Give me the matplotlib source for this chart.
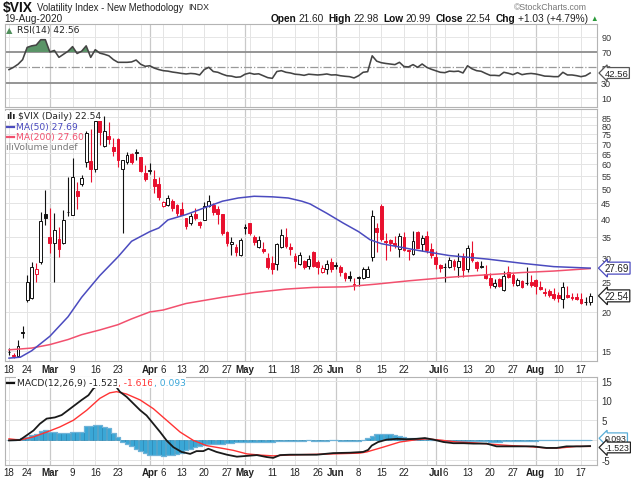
import numpy as np
import matplotlib.pyplot as plt
from matplotlib import font_manager
from matplotlib.lines import Line2D
from matplotlib.ticker import NullLocator
from matplotlib.transforms import blended_transform_factory

W, H = 631, 481

# ---- daily candles, 18-Feb-2020 .. 19-Aug-2020 (index 0..128) ----
prev_close = 13.68
opens = [14.85, 14.55, 14.40, 17.30, 21.80, 22.20, 26.60, 28.90, 41.30, 34.80,
         33.30, 34.30, 33.30, 41.90, 41.10, 49.00, 51.80, 60.90, 61.20, 57.83,
         85.00, 68.60, 74.00, 68.00, 72.40, 57.80, 60.90, 64.60, 65.00, 63.20,
         56.20, 57.00, 53.50, 51.80, 43.90, 44.30, 45.60, 44.40, 43.00, 40.10,
         38.80, 41.30, 39.00, 39.60, 44.00, 44.40, 43.00, 41.30, 36.10, 33.20,
         32.50, 30.50, 37.60, 38.70, 34.80, 32.30, 31.90, 29.90, 28.80, 28.50,
         32.50, 34.90, 32.30, 30.30, 28.50, 29.20, 28.20, 31.10, 29.00, 27.00,
         27.50, 29.00, 28.40, 28.00, 26.70, 26.10, 24.60, 25.90, 25.80, 26.00,
         30.00, 37.40, 44.00, 33.90, 34.00, 33.30, 31.80, 35.00, 31.60, 30.70,
         36.30, 33.00, 35.20, 31.80, 30.00, 28.30, 27.90, 27.90, 29.30, 27.90,
         30.30, 27.50, 31.00, 29.00, 28.10, 26.50, 25.80, 24.20, 25.50, 23.60,
         27.00, 26.30, 24.50, 25.20, 24.80, 24.90, 25.30, 24.00, 23.20, 23.30,
         22.90, 22.70, 22.00, 22.70, 22.40, 22.40, 22.00, 21.60, 21.60]
highs = [15.35, 14.75, 16.30, 18.00, 26.30, 29.00, 28.80, 42.00, 49.48, 43.40,
         41.60, 37.60, 42.70, 54.39, 62.70, 52.30, 55.07, 76.83, 77.57, 83.56,
         86.00, 85.47, 81.89, 72.91, 72.90, 62.00, 65.50, 65.00, 67.00, 63.37,
         59.31, 60.59, 57.24, 54.40, 45.50, 47.50, 46.36, 44.50, 45.21, 40.17,
         41.78, 43.35, 39.43, 45.08, 47.54, 45.00, 43.75, 41.32, 36.50, 34.88,
         33.07, 34.68, 38.31, 38.80, 35.44, 35.25, 33.62, 30.97, 30.38, 33.49,
         37.07, 37.34, 33.28, 30.90, 31.24, 29.40, 30.43, 31.50, 29.50, 28.41,
         29.48, 29.81, 29.00, 28.30, 26.90, 27.18, 25.80, 26.20, 28.02, 28.04,
         42.60, 38.83, 44.44, 36.00, 34.50, 35.22, 35.96, 36.13, 31.61, 36.41,
         36.50, 35.49, 36.47, 33.31, 31.36, 28.49, 28.81, 30.09, 29.69, 30.89,
         30.87, 32.97, 33.99, 29.26, 29.12, 28.41, 26.70, 25.58, 25.69, 27.17,
         28.03, 26.66, 25.73, 25.36, 28.00, 26.33, 25.57, 25.25, 23.87, 23.68,
         23.97, 23.27, 24.90, 24.20, 23.02, 23.04, 22.99, 22.39, 22.98]
lows = [14.55, 14.20, 14.30, 16.50, 21.60, 22.00, 25.00, 28.60, 38.20, 31.00,
        25.00, 30.00, 33.00, 40.80, 41.00, 42.80, 51.00, 58.76, 52.30, 56.50,
        69.26, 68.00, 69.53, 63.70, 58.65, 36.00, 60.00, 59.93, 61.65, 56.38,
        52.83, 55.68, 48.21, 46.03, 43.50, 43.80, 42.41, 40.78, 41.02, 37.00,
        38.26, 39.49, 37.43, 39.50, 43.53, 41.01, 38.44, 35.39, 32.74, 30.54,
        30.41, 30.40, 35.56, 35.32, 32.84, 32.20, 31.03, 27.46, 26.50, 27.21,
        32.07, 32.04, 30.51, 27.81, 28.30, 27.55, 27.50, 27.90, 26.43, 26.64,
        26.47, 26.95, 27.50, 26.10, 25.14, 25.13, 23.60, 24.32, 25.60, 25.92,
        29.30, 31.25, 33.85, 29.41, 31.43, 32.22, 30.00, 31.37, 29.50, 30.50,
        32.18, 31.34, 31.00, 29.83, 27.50, 26.88, 24.90, 27.80, 27.29, 26.00,
        26.00, 26.82, 28.98, 27.20, 27.68, 25.46, 23.90, 23.85, 24.05, 23.43,
        25.68, 24.30, 24.30, 23.93, 24.51, 24.06, 22.80, 23.56, 22.54, 22.31,
        21.82, 21.57, 20.60, 22.11, 21.91, 21.88, 21.20, 20.99, 20.99]
closes = [14.83, 14.38, 15.56, 17.08, 25.03, 27.85, 27.56, 39.16, 40.11, 33.42,
          36.82, 31.99, 39.62, 41.94, 54.46, 47.30, 53.90, 75.47, 57.83, 82.69,
          75.91, 76.45, 72.00, 66.04, 61.59, 61.67, 63.95, 61.00, 65.54, 57.08,
          53.54, 57.06, 50.91, 46.80, 45.24, 46.70, 43.35, 41.67, 41.17, 37.76,
          40.84, 40.11, 38.15, 43.83, 45.41, 41.98, 41.38, 35.93, 33.29, 33.57,
          31.23, 34.15, 37.19, 35.97, 33.61, 34.12, 31.44, 27.98, 27.57, 33.04,
          35.28, 32.61, 31.89, 29.30, 30.53, 27.99, 29.53, 28.16, 28.01, 27.62,
          28.59, 27.51, 28.23, 26.84, 25.66, 25.81, 24.52, 25.81, 27.57, 27.57,
          40.79, 36.09, 34.40, 33.67, 33.47, 32.94, 35.12, 31.77, 31.37, 33.84,
          32.22, 34.73, 31.78, 30.43, 28.62, 27.68, 27.94, 29.43, 28.08, 29.26,
          27.29, 32.19, 29.52, 27.76, 28.00, 25.68, 24.46, 24.84, 24.32, 26.08,
          25.84, 24.74, 25.44, 24.10, 24.76, 24.46, 24.28, 23.76, 22.99, 22.65,
          22.21, 22.13, 24.03, 22.28, 22.13, 22.05, 21.35, 21.51, 22.54]

# moving averages (day index, value)
ma50_i = [0, 2.5, 5, 9, 13, 16, 20, 24, 27, 31, 33, 35, 39, 43, 47, 50.5, 54, 58, 61.5, 64.5,
          66.3, 70, 73.6, 77, 79.5, 82, 86, 90, 93.5, 97, 105.5, 113, 120, 128]
ma50_v = [14.2, 14.3, 15.0, 16.7, 19.3, 22.3, 26.2, 30.1, 33.8, 36.3, 37.3, 39.6, 41.2, 43.3,
          45.5, 46.6, 47.2, 47.0, 46.6, 45.5, 44.6, 41.6, 38.7, 36.3, 34.2, 33.2, 32.4, 31.6,
          31.0, 30.4, 29.6, 28.7, 28.0, 27.69]
ma200_i = [0, 5, 9, 13, 16, 20, 24, 27, 31, 34, 39, 47, 54, 61, 67, 74, 81, 88, 96, 99,
           106, 113, 120, 128]
ma200_v = [15.1, 15.3, 15.7, 16.3, 16.9, 17.5, 18.2, 19.0, 20.0, 20.3, 21.3, 22.3, 23.1, 23.7,
           24.0, 24.1, 24.6, 25.2, 25.8, 26.0, 26.4, 26.8, 27.1, 27.6]

# RSI(14), one value per day
rsi = [47, 50, 54, 60, 76, 78, 79, 86, 86, 70,
       72, 63, 67, 71, 77, 68, 71, 78, 63, 73,
       68.5, 67, 65, 60, 56.5, 56.5, 56.5, 57, 59.5, 54,
       51.3, 52, 49, 47, 45.6, 45, 43.8, 43, 42, 41.3,
       42, 41.5, 40, 47, 50, 44.5, 43.5, 41, 39, 38.5,
       37, 37.5, 41, 42.5, 41, 41.5, 39, 36.5, 35.6, 44.5,
       45.6, 43.5, 42.6, 41, 40.5, 39.5, 41, 40.5, 40, 40.5,
       41.3, 40, 40.2, 39, 38.3, 37.8, 36.1, 39, 43.5, 44.3,
       65, 58, 56, 55, 54.3, 53.5, 56.5, 51, 50.5, 53.5,
       50, 54.3, 50, 47.5, 45.5, 43.5, 43, 45, 44.5, 45,
       42.6, 52, 48, 45.6, 44.8, 42, 39.5, 39.5, 39, 43.5,
       42.2, 40.4, 43, 40.4, 41.5, 42, 41.3, 40, 38.5, 38.3,
       37.8, 37.8, 43.5, 40, 40, 39.1, 37.8, 39, 42.56]

# MACD(12,26,9) lines (day index, value)
macd_i = [0, 2.4, 3.9, 5.4, 6.8, 8.3, 10.1, 11.6, 13, 14.5, 16, 17.5, 18.6, 19.7, 21, 22, 23,
          24.4, 25.9, 27.4, 28.9, 30.3, 31.8, 33.3, 34.7, 36.2, 38, 39.9, 41.3, 42.8, 43.9,
          45.7, 48, 50.2, 52.4, 54.6, 56.8, 58.2, 59.7, 61.9, 64.1, 67.8, 71.4, 75.1, 78,
          79.1, 79.9, 81.3, 83.2, 85.4, 87.6, 89.8, 91.6, 93.5, 95.7, 97.9, 100.1, 102.3,
          105.2, 107.4, 109.6, 112.6, 115.5, 118.4, 120.6, 122.8, 125.8, 128]
macd_v = [-0.1, 0, 1.2, 2.4, 4.1, 5.4, 5.7, 6.3, 7.5, 8.8, 10.1, 11.3, 13.0, 13.9, 14.6, 14.8,
          14.4, 12.2, 10.9, 9.2, 7.5, 6.2, 4.1, 2.0, -0.1, -1.8, -3.0, -3.5, -2.8, -2.8, -2.2,
          -3.0, -3.7, -4.2, -4.0, -3.8, -4.3, -4.5, -3.8, -3.7, -3.7, -3.7, -3.3, -3.2, -3.0,
          -2.5, -1.4, -0.5, 0.1, 0.3, 0.2, 0.3, 0.5, 0.1, -0.5, -0.8, -0.8, -0.9, -0.9, -1.6,
          -1.6, -1.6, -1.6, -2.0, -2.0, -1.6, -1.6, -1.523]
signal_i = [0, 2.4, 5.4, 8.3, 11.2, 14.2, 17.1, 20, 22.2, 23.7, 25.9, 28.9, 31.8, 34.7, 37.7,
            40.6, 43.5, 46.5, 49.4, 52.4, 55.3, 58.2, 61.2, 64.1, 71.4, 77.3, 78.8, 82.4, 86.1,
            89.8, 92, 94.9, 98.6, 102.3, 106.7, 110.4, 114, 118.4, 121.4, 125, 128]
signal_v = [0.3, 0, 0.8, 2.0, 3.3, 5.0, 7.5, 10.5, 11.9, 12.2, 11.6, 10.1, 7.9, 5.0, 2.0, -0.1,
            -1.4, -2.0, -2.6, -3.5, -3.8, -4.0, -3.8, -3.7, -3.5, -3.3, -3.0, -1.8, -0.5, 0.1,
            0.3, 0.0, -0.5, -0.7, -1.1, -1.4, -1.6, -2.0, -2.0, -1.6, -1.616]
hist = [0.0, 0.0, 0.2, 0.5, 0.8, 1.2, 1.6, 2.3, 2.5, 2.0,
        2.0, 1.8, 1.8, 1.8, 2.0, 2.0, 2.0, 3.5, 3.5, 3.9,
        3.9, 3.3, 3.0, 1.8, 0.8, -0.5, -1.0, -1.5, -2.2, -2.8,
        -3.3, -3.7, -3.9, -3.9, -4.0, -3.9, -3.9, -3.6, -3.2, -2.6,
        -2.2, -1.8, -1.4, -1.2, -1.1, -1.0, -1.0, -0.9, -0.8, -0.7,
        -0.6, -0.6, -0.5, -0.5, -0.5, -0.5, -0.4, -0.6, -0.6, -0.3,
        -0.2, -0.3, -0.3, -0.2, -0.2, -0.2, -0.1, -0.2, -0.2, -0.3,
        -0.2, -0.1, -0.1, -0.2, -0.2, -0.2, -0.3, -0.2, 0.1, 0.6,
        1.1, 1.4, 1.5, 1.5, 1.4, 1.2, 1.0, 0.8, 0.6, 0.5,
        0.4, 0.3, 0.2, 0.1, 0.0, -0.1, -0.2, -0.2, -0.3, -0.3,
        -0.3, -0.2, -0.2, -0.3, -0.3, -0.3, -0.4, -0.4, -0.4, -0.3,
        -0.3, -0.3, -0.2, -0.2, -0.2, -0.2, -0.2, -0.1, -0.1, -0.1,
        -0.1, -0.1, 0.0, 0.0, 0.0, 0.05, 0.05, 0.05, 0.093]

# x axis: date labels and grid positions (trading-day index)
tick_idx = [0, 4, 9, 14, 19, 24, 31, 34, 38, 43, 48, 52, 58, 63, 68, 72, 77, 82, 87, 94, 96,
            101, 106, 111, 116, 121, 126]
tick_lab = ['18', '24', 'Mar', '9', '16', '23', 'Apr', '6', '13', '20', '27', 'May', '11', '18',
            '26', 'Jun', '8', '15', '22', 'Jul', '6', '13', '20', '27', 'Aug', '10', '17']
week_idx = [0, 4, 9, 14, 19, 24, 29, 34, 38, 43, 48, 53, 58, 63, 68, 72, 77, 82, 87, 92, 96,
            101, 106, 111, 116, 121, 126]
month_idx = [9, 31, 52, 72, 94, 116]
months = {'Mar', 'Apr', 'May', 'Jun', 'Jul', 'Aug'}


def has_font(name):
    try:
        font_manager.findfont(name, fallback_to_default=False)
        return True
    except Exception:
        return False


SANS = 'Liberation Sans'
NARROW = 'Liberation Sans Narrow' if has_font('Liberation Sans Narrow') else SANS
LEG = 'DejaVu Sans'

RED = '#e8102e'
BLK = '#111111'
BLUE = '#4b4bbf'
PINK = '#f2506e'
HBLUE = '#3aa7d6'

fig = plt.figure(figsize=(W / 100, H / 100), dpi=100)
fig.patch.set_facecolor('white')


def fx(x):
    return x / W


def fy(y):
    return 1 - y / H


L, R = 5, 597
ax_rsi = fig.add_axes([fx(L), fy(108), (R - L) / W, 83 / H])
ax_main = fig.add_axes([fx(L), fy(362), (R - L) / W, 252 / H])
ax_macd = fig.add_axes([fx(L), fy(466), (R - L) / W, 88 / H])

idx = np.arange(len(closes))
xmin, xmax = (L - 9) / 4.54, (R - 9) / 4.54

for ax in (ax_rsi, ax_main, ax_macd):
    ax.set_xlim(xmin, xmax)
    for i in week_idx:
        ax.axvline(i, color='#e4e4e4', lw=0.7, zorder=0)
    for i in month_idx:
        ax.axvline(i, color='#c9c9c9', lw=0.9, zorder=0)
    for s in ax.spines.values():
        s.set_color('#b4b4b4')
        s.set_linewidth(0.8)
    ax.yaxis.tick_right()
    ax.tick_params(axis='y', length=0, pad=3, labelsize=7, labelcolor='#333333')

# ---------------- RSI panel ----------------
ax_rsi.set_ylim(-1.8, 106.5)
for v in (10, 90):
    ax_rsi.axhline(v, color='#e6e6e6', lw=0.7, zorder=0)
ax_rsi.axhline(70, color='#8c8c8c', lw=1.3, zorder=1)
ax_rsi.axhline(30, color='#8c8c8c', lw=1.3, zorder=1)
ax_rsi.axhline(50, color='#999999', lw=0.9, ls='-.', zorder=1)
rsi_a = np.array(rsi)
ax_rsi.fill_between(idx, rsi_a, 70, where=rsi_a > 70, interpolate=True,
                    color='#5a9467', lw=0, zorder=2)
ax_rsi.plot(idx, rsi_a, color='#444444', lw=1.15, zorder=3)
ax_rsi.set_yticks([10, 30, 50, 70, 90])
ax_rsi.set_yticklabels(['10', '30', '50', '70', '90'], family=SANS)
ax_rsi.tick_params(axis='y', labelsize=6.6)
ax_rsi.set_xticks([])

# ---------------- price panel ----------------
ax_main.set_yscale('log')
ax_main.set_ylim(13.9, 90.2)
levels = list(range(15, 90, 5))
for v in levels:
    ax_main.axhline(v, color='#e4e4e4', lw=0.7, zorder=0)
ax_main.set_yticks(levels)
ax_main.set_yticklabels([str(v) for v in levels], family=SANS)
ax_main.yaxis.set_minor_locator(NullLocator())
ax_main.tick_params(axis='y', labelsize=6.4)

o = np.array(opens)
h = np.array(highs)
lo = np.array(lows)
c = np.array(closes)
pc = np.concatenate([[prev_close], c[:-1]])
cols = [BLK if c[i] >= pc[i] else RED for i in idx]
faces = ['white' if c[i] > o[i] else cols[i] for i in idx]
bots = np.minimum(o, c)
tops = np.maximum(np.maximum(o, c), bots * 1.004)
ax_main.vlines(idx, lo, h, colors=cols, lw=0.8, zorder=2)
ax_main.bar(idx, tops - bots, bottom=bots, width=0.62, color=faces, edgecolor=cols,
            linewidth=0.7, zorder=3)
ax_main.plot(ma200_i, ma200_v, color=PINK, lw=1.1, zorder=4)
ax_main.plot(ma50_i, ma50_v, color=BLUE, lw=1.1, zorder=4)

# ---------------- MACD panel ----------------
ax_macd.set_ylim(-6.3, 15.9)
for v in (-5, 0, 5, 10, 15):
    ax_macd.axhline(v, color='#e4e4e4', lw=0.7, zorder=0)
ax_macd.bar(idx, hist, width=0.9, color=HBLUE, edgecolor='#1f7fae', linewidth=0.4, zorder=2)
ax_macd.step(idx, hist, where='mid', color='#6fb3d8', lw=0.9, zorder=2)
ax_macd.plot(signal_i, signal_v, color='#ff3333', lw=1.0, zorder=3)
ax_macd.plot(macd_i, macd_v, color='#1a1a1a', lw=1.3, zorder=4)
ax_macd.set_yticks([-5, 5, 10, 15])
ax_macd.set_yticklabels(['-5', '5', '10', '15'], family=SANS)

for ax, pad in ((ax_main, 2.5), (ax_macd, 1.5)):
    ax.set_xticks(tick_idx)
    ax.set_xticklabels(tick_lab)
    ax.tick_params(axis='x', length=0, pad=pad, labelsize=7, labelcolor='#222222')
    for lab in ax.get_xticklabels():
        lab.set_family(SANS)
        if lab.get_text() in months:
            lab.set_fontweight('bold')


# ---------------- value tags on the right ----------------
def tag(ax, v, text, ec, size=7, dy=0.0):
    tr = blended_transform_factory(ax.transAxes, ax.transData)
    ax.text(1.013, v + dy, text, transform=tr, ha='left', va='center', fontsize=size,
            family=SANS, color='#222222', zorder=10, clip_on=False,
            bbox=dict(boxstyle='larrow,pad=0.1', fc='white', ec=ec, lw=0.9))


# the RSI tag sits over the lower half of the "50" label, as in the original
tag(ax_rsi, 42.56, '42.56', '#555555', size=6.8)
tag(ax_main, 27.69, '27.69', BLUE)
tag(ax_main, 22.54, '22.54', '#222222')
tag(ax_macd, 0.093, '0.093', '#5aaed8', size=6.3, dy=0.35)
tag(ax_macd, -1.523, '-1.523', '#222222', size=6.3, dy=-0.35)

renderer = fig.canvas.get_renderer()


def seq_text(pieces, x0, y, align='left'):
    arts = []
    x = 0
    for s, kw, gap in pieces:
        t = fig.text(0, fy(y), s, va='center', ha='left', **kw)
        w = t.get_window_extent(renderer=renderer).width
        arts.append((t, x))
        x += w + gap
    start = x0 if align == 'left' else x0 - x
    for t, off in arts:
        t.set_x(fx(start + off))


# ---------------- header ----------------
seq_text([('$VIX', dict(fontsize=10, fontweight='bold', family=SANS, color='#111111'), 4),
          ('Volatility Index - New Methodology',
           dict(fontsize=6.9 if NARROW == SANS else 8, family=NARROW, color='#222222'), 5),
          ('INDX', dict(fontsize=6.3, family=SANS, color='#222222'), 0)], 3, 8)
fig.text(fx(587), fy(8), '\u00a9StockCharts.com', fontsize=6.3, family=SANS, va='center',
         ha='right', color='#777777')
fig.text(fx(4), fy(19), '19-Aug-2020', fontsize=7.2, family=SANS, va='center', color='#222222')

b = dict(fontsize=7.3, family=SANS, fontweight='bold', color='#111111')
n = dict(fontsize=7.3, family=SANS, color='#222222')
seq_text([('Open', b, 2), ('21.60', n, 5), ('High', b, 2), ('22.98', n, 5),
          ('Low', b, 2), ('20.99', n, 5), ('Close', b, 2), ('22.54', n, 5),
          ('Chg', b, 2), ('+1.03 (+4.79%)', n, 3),
          ('\u25b2', dict(fontsize=5.5, family=[SANS, 'DejaVu Sans'], color='#2a9a3a'), 0)],
         598, 19.5, align='right')

# ---------------- panel legends ----------------
lg = dict(fontsize=6.6, family=LEG)
fig.text(fx(6), fy(31), '\u25b2', fontsize=6, family=LEG, color='#4f8f5a', va='center')
fig.text(fx(17), fy(31), 'RSI(14) 42.56', color='#222222', va='center', **lg)

white = dict(fc='white', ec='none', pad=0.6)
fig.text(fx(6), fy(117), '\u0131l\u0131', color='#222222', va='center', fontsize=6.6,
         family=LEG, fontweight='bold', bbox=white, zorder=20)
fig.text(fx(18), fy(117), '$VIX (Daily) 22.54', color='#222222', va='center', bbox=white,
         zorder=20, **lg)
fig.add_artist(Line2D([fx(7), fx(14)], [fy(127.5)] * 2, color=BLUE, lw=1.6))
fig.text(fx(15.5), fy(127.5), 'MA(50) 27.69', color=BLUE, va='center', **lg)
fig.add_artist(Line2D([fx(7), fx(14)], [fy(137.5)] * 2, color=PINK, lw=1.6))
fig.text(fx(15.5), fy(137.5), 'MA(200) 27.60', color=PINK, va='center', **lg)
fig.text(fx(6), fy(147.5), '\u0131l\u0131Volume undef', color='#777777', va='center', **lg)

fig.add_artist(Line2D([fx(7), fx(14)], [fy(383.5)] * 2, color='#111111', lw=1.6))
mw = dict(fontsize=6.6, family=LEG, bbox=dict(fc='white', ec='none', pad=0.8), zorder=20)
seq_text([('MACD(12,26,9) -1.523', dict(color='#222222', **mw), 0),
          (', -1.616', dict(color='#ff3333', **mw), 0),
          (', 0.093', dict(color='#3aa6d8', **mw), 0)], 17, 383.5)

fig.savefig('out.png', dpi=100)
